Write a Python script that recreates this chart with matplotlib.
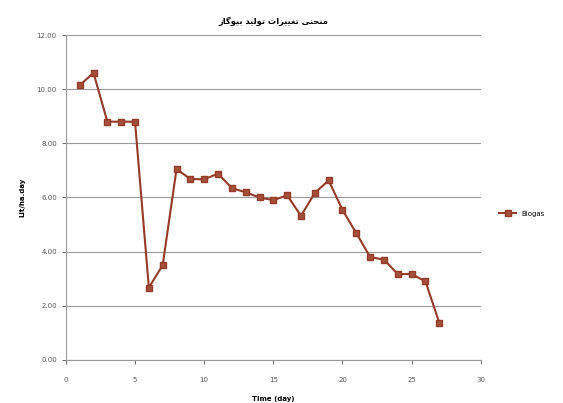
import matplotlib

matplotlib.use("Agg")
import matplotlib.pyplot as plt

# days and daily biogas values
days = list(range(1, 28))
biogas = [10.15, 10.6, 8.8, 8.8, 8.8, 2.67, 3.5, 7.05, 6.68, 6.67, 6.88,
          6.35, 6.19, 6.0, 5.9, 6.08, 5.32, 6.17, 6.63, 5.54, 4.68,
          3.8, 3.7, 3.17, 3.17, 2.9, 1.37]

x_ticks = [0, 5, 10, 15, 20, 25, 30]
y_ticks = [0, 2, 4, 6, 8, 10, 12]

# Persian title, pre-shaped (presentation forms, visual order):
# "منحنی تغییرات تولید بیوگاز"
TITLE = ("\uFEAF\uFE8E\uFB94\uFEEE\uFBFF\uFE91 "
         "\uFEAA\uFBFF\uFEDF\uFEEE\uFE97 "
         "\uFE95\uFE8D\uFEAE\uFBFF\uFBFF\uFED0\uFE97 "
         "\uFBFD\uFEE8\uFEA4\uFEE8\uFEE3")

LINE_COLOR = "#943a26"
GRID_COLOR = "#9a9a9a"

fig = plt.figure(figsize=(5.63, 4.03), dpi=100)
ax = fig.add_axes([0.117, 0.107, 0.737, 0.806])

ax.plot(days, biogas, color=LINE_COLOR, linewidth=1.5, marker="s",
        markersize=4, markerfacecolor="#a5503c", markeredgecolor=LINE_COLOR,
        label="Biogas")

ax.set_xlim(0, 30)
ax.set_ylim(0, 12)
ax.set_xticks(x_ticks)
ax.set_yticks(y_ticks)
ax.set_yticklabels([f"{v:.2f}" for v in y_ticks])
ax.tick_params(labelsize=5, colors="#555555", length=3, width=0.6)
ax.tick_params(axis="x", pad=9)

ax.yaxis.grid(True, color=GRID_COLOR, linewidth=0.8)
ax.set_axisbelow(True)
for side in ["top", "right"]:
    ax.spines[side].set_visible(False)
for side in ["left", "bottom"]:
    ax.spines[side].set_color(GRID_COLOR)
    ax.spines[side].set_linewidth(0.8)

ax.set_title(TITLE, fontsize=6, fontweight="bold",
             family=["DejaVu Sans", "Noto Sans"], pad=8)
ax.set_xlabel("Time (day)", fontsize=5, fontweight="bold", labelpad=10)
ax.set_ylabel("Lit/ha.day", fontsize=5, fontweight="bold", labelpad=8)

fig.legend(loc="center left", bbox_to_anchor=(0.875, 0.47), frameon=False,
           fontsize=5, handlelength=2.5)

fig.savefig("out.png", dpi=100)
